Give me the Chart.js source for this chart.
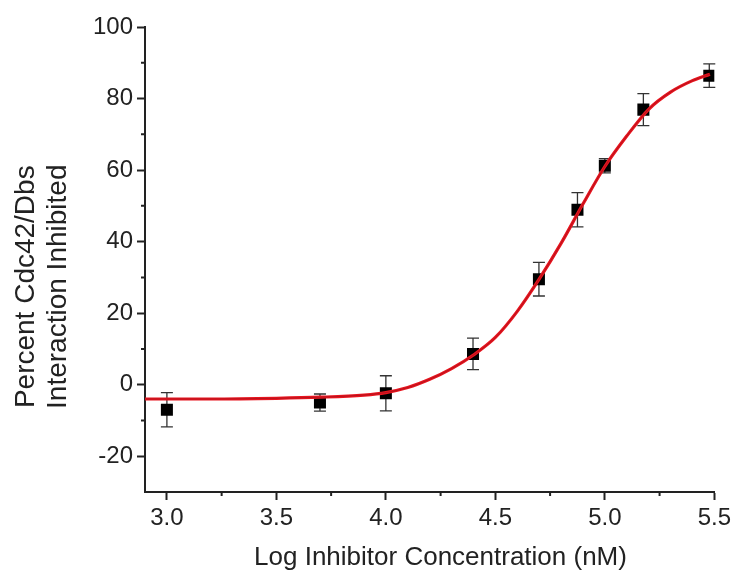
<!DOCTYPE html>
<html>
<head>
<meta charset="utf-8">
<script src="https://cdn.jsdelivr.net/npm/chart.js@4"></script>
<style>
  html, body { margin: 0; padding: 0; background: #fff; }
</style>
</head>
<body>
<canvas id="ic50Chart" width="735" height="575"></canvas>
<script>
// measured points (log nM, % inhibited, +/- error)
const logConc = [3.0, 3.699, 4.0, 4.398, 4.699, 4.875, 5.0, 5.176, 5.477];
const pctInhibited = [-7.0, -5.0, -2.4, 8.6, 29.5, 48.9, 61.2, 76.9, 86.4];
const errBars = [4.8, 2.4, 4.9, 4.4, 4.7, 4.8, 2.0, 4.5, 3.3];

// fitted curve
const fitX = [2.9, 3.2, 3.5, 3.7, 3.9, 4.0, 4.1, 4.2, 4.3, 4.4, 4.5, 4.6, 4.7, 4.8, 4.9, 5.0, 5.1, 5.2, 5.3, 5.4, 5.48];
const fitY = [-4.0, -4.0, -3.8, -3.5, -2.9, -2.2, -0.8, 1.5, 4.5, 8.3, 13.2, 20.5, 29.5, 39.5, 50.5, 61.0, 69.5, 77.0, 81.8, 85.0, 86.8];

const xMajorTicks = [3.0, 3.5, 4.0, 4.5, 5.0, 5.5];
const xMinorTicks = [3.25, 3.75, 4.25, 4.75, 5.25];
const yMajorTicks = [-20, 0, 20, 40, 60, 80, 100];
const yMinorTicks = [-10, 10, 30, 50, 70, 90];

const axisColor = "#222";
const fontFamily = "'Liberation Sans', Arial, sans-serif";
const pad = (n) => "\u00a0".repeat(n);

const errorBars = {
  id: "errorBars",
  beforeDatasetsDraw(chart) {
    const { ctx, scales: { x, y } } = chart;
    ctx.save();
    ctx.strokeStyle = "#333";
    ctx.lineWidth = 1.3;
    logConc.forEach((v, i) => {
      const px = x.getPixelForValue(v);
      const top = y.getPixelForValue(pctInhibited[i] + errBars[i]);
      const bot = y.getPixelForValue(pctInhibited[i] - errBars[i]);
      ctx.beginPath();
      ctx.moveTo(px, top); ctx.lineTo(px, bot);
      ctx.moveTo(px - 6, top); ctx.lineTo(px + 6, top);
      ctx.moveTo(px - 6, bot); ctx.lineTo(px + 6, bot);
      ctx.stroke();
    });
    ctx.restore();
  }
};

const minorTicks = {
  id: "minorTicks",
  afterDraw(chart) {
    const { ctx, scales: { x, y } } = chart;
    ctx.save();
    ctx.strokeStyle = axisColor;
    ctx.lineWidth = 2;
    ctx.beginPath();
    xMinorTicks.forEach(v => {
      const px = x.getPixelForValue(v);
      ctx.moveTo(px, x.top); ctx.lineTo(px, x.top + 4);
    });
    yMinorTicks.forEach(v => {
      const py = y.getPixelForValue(v);
      ctx.moveTo(y.right, py); ctx.lineTo(y.right - 4, py);
    });
    ctx.stroke();
    ctx.restore();
  }
};

const fitPoints = fitX.map((v, i) => ({ x: v, y: fitY[i] }));

new Chart(document.getElementById("ic50Chart"), {
  data: {
    datasets: [
      {
        // thin dark core of the fit line
        type: "line",
        data: fitPoints,
        borderColor: "#a0121c",
        borderWidth: 0.7,
        pointRadius: 0,
        cubicInterpolationMode: "monotone",
        fill: false
      },
      {
        type: "line",
        data: fitPoints,
        borderColor: "#e8141e",
        borderWidth: 3.2,
        pointRadius: 0,
        cubicInterpolationMode: "monotone",
        fill: false
      },
      {
        type: "scatter",
        data: logConc.map((v, i) => ({ x: v, y: pctInhibited[i] })),
        pointStyle: "rect",
        pointRadius: 8.5,
        backgroundColor: "#000",
        borderColor: "#000",
        borderWidth: 0
      }
    ]
  },
  options: {
    responsive: false,
    devicePixelRatio: 1,
    animation: false,
    layout: { padding: { top: 27, right: 20, left: 0, bottom: 0 } },
    plugins: { legend: { display: false }, tooltip: { enabled: false } },
    scales: {
      x: {
        type: "linear",
        min: 2.9,
        max: 5.5,
        afterBuildTicks: (scale) => { scale.ticks = xMajorTicks.map(v => ({ value: v })); },
        afterFit: (scale) => { scale.height = 83; },
        border: { display: true, color: axisColor, width: 2 },
        grid: { display: true, drawOnChartArea: false, drawTicks: true, tickLength: 8, tickWidth: 2, tickColor: axisColor },
        ticks: {
          color: axisColor,
          padding: 4,
          font: { family: fontFamily, size: 24 },
          callback: (v) => Number(v).toFixed(1)
        },
        title: {
          display: true,
          text: pad(3) + "Log Inhibitor Concentration (nM)",
          color: axisColor,
          font: { family: fontFamily, size: 26 },
          padding: { top: 4, bottom: 2 }
        }
      },
      y: {
        type: "linear",
        min: -30,
        max: 100,
        afterBuildTicks: (scale) => { scale.ticks = yMajorTicks.map(v => ({ value: v })); },
        afterFit: (scale) => { scale.width = 145; },
        border: { display: true, color: axisColor, width: 2 },
        grid: { display: true, drawOnChartArea: false, drawTicks: true, tickLength: 8, tickWidth: 2, tickColor: axisColor },
        ticks: {
          color: axisColor,
          padding: 4,
          font: { family: fontFamily, size: 24 },
          callback: (v) => String(v)
        },
        title: {
          display: true,
          text: ["Percent Cdc42/Dbs" + pad(7), "Interaction Inhibited" + pad(7)],
          color: axisColor,
          font: { family: fontFamily, size: 28, lineHeight: 1.15 },
          padding: { top: 10, bottom: 0 }
        }
      }
    }
  },
  plugins: [errorBars, minorTicks]
});
</script>
</body>
</html>
